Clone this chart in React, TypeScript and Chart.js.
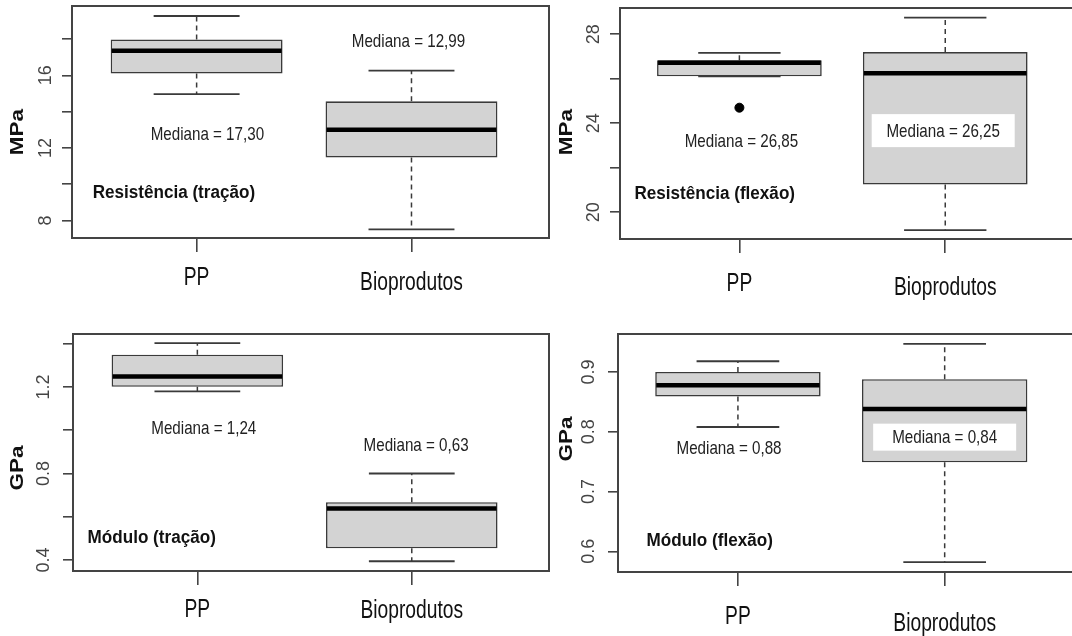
import React, { useEffect, useRef } from 'react';
import { Chart, registerables } from 'chart.js';

Chart.register(...registerables);

// ---------- DATA ----------
const categories = ['PP', 'Bioprodutos'];

// five-number summaries: [min, Q1, median, Q3, max]
const resTracaoPP = [14.97, 16.1, 17.35, 17.98, 19.27];
const resTracaoBio = [7.52, 11.48, 13.0, 14.57, 16.26];
const resFlexaoPP = [26.11, 26.11, 26.72, 26.83, 27.16];
const resFlexaoBio = [19.2, 21.25, 26.25, 27.2, 28.75];
const resFlexaoOutliersPP = [24.7];
const modTracaoPP = [1.18, 1.201, 1.248, 1.349, 1.403];
const modTracaoBio = [0.394, 0.454, 0.638, 0.667, 0.8];
const modFlexaoPP = [0.808, 0.859, 0.878, 0.9, 0.918];
const modFlexaoBio = [0.582, 0.749, 0.838, 0.888, 0.947];

const resTracaoTicks = [8, 10, 12, 14, 16, 18];
const resTracaoTickLabels = [8, 12, 16];
const resFlexaoTicks = [20, 22, 24, 26, 28];
const resFlexaoTickLabels = [20, 24, 28];
const modTracaoTicks = [0.4, 0.6, 0.8, 1.0, 1.2, 1.4];
const modTracaoTickLabels = [0.4, 0.8, 1.2];
const modFlexaoTicks = [0.6, 0.7, 0.8, 0.9];
const modFlexaoTickLabels = [0.6, 0.7, 0.8, 0.9];

const resTracaoMedianTexts = ['Mediana = 17,30', 'Mediana = 12,99'];
const resFlexaoMedianTexts = ['Mediana = 26,85', 'Mediana = 26,25'];
const modTracaoMedianTexts = ['Mediana = 1,24', 'Mediana = 0,63'];
const modFlexaoMedianTexts = ['Mediana = 0,88', 'Mediana = 0,84'];

// ---------- STYLE / LAYOUT ----------
const SANS = "'Liberation Sans', Arial, sans-serif";
const X_MIN = 0.42;
const X_MAX = 2.64;
const BOX_WIDTH = 0.8;

type Label = { text: string; x: number; y: number; bold?: boolean; boxed?: { w: number; h: number } };

type Panel = {
  canvas: { left: number; top: number; width: number; height: number };
  area: { left: number; top: number; right: number; bottom: number };
  yMin: number;
  yMax: number;
  ticks: number[];
  tickLabels: number[];
  unit: string;
  unitPos: { x: number; y: number };
  catBaselines: number[]; // page y of category label baselines
  summaries: number[][];
  outliers: number[][];
  labels: Label[];
};

const panels: Panel[] = [
  {
    canvas: { left: 0, top: 0, width: 560, height: 318 },
    area: { left: 72, top: 6, right: 549, bottom: 238 },
    yMin: 7.04, yMax: 19.82,
    ticks: resTracaoTicks, tickLabels: resTracaoTickLabels,
    unit: 'MPa', unitPos: { x: 18.5, y: 132 },
    catBaselines: [285, 290],
    summaries: [resTracaoPP, resTracaoBio],
    outliers: [[], []],
    labels: [
      { text: resTracaoMedianTexts[0], x: 1.05, y: 12.76 },
      { text: resTracaoMedianTexts[1], x: 1.986, y: 17.89 },
      { text: 'Resistência (tração)', x: 0.516, y: 9.51, bold: true },
    ],
  },
  {
    canvas: { left: 536, top: 0, width: 552, height: 318 },
    area: { left: 620, top: 8, right: 1077, bottom: 239 },
    yMin: 18.8, yMax: 29.18,
    ticks: resFlexaoTicks, tickLabels: resFlexaoTickLabels,
    unit: 'MPa', unitPos: { x: 31.5, y: 132 },
    catBaselines: [291, 295],
    summaries: [resFlexaoPP, resFlexaoBio],
    outliers: [resFlexaoOutliersPP, []],
    labels: [
      { text: resFlexaoMedianTexts[0], x: 1.01, y: 23.2 },
      { text: resFlexaoMedianTexts[1], x: 1.99, y: 23.67, boxed: { w: 143, h: 33 } },
      { text: 'Resistência (flexão)', x: 0.49, y: 20.82, bold: true },
    ],
  },
  {
    canvas: { left: 0, top: 318, width: 560, height: 318 },
    area: { left: 73, top: 334, right: 549, bottom: 571 },
    yMin: 0.349, yMax: 1.445,
    ticks: modTracaoTicks, tickLabels: modTracaoTickLabels,
    unit: 'GPa', unitPos: { x: 18, y: 150 },
    catBaselines: [617, 618],
    summaries: [modTracaoPP, modTracaoBio],
    outliers: [[], []],
    labels: [
      { text: modTracaoMedianTexts[0], x: 1.03, y: 1.011 },
      { text: modTracaoMedianTexts[1], x: 2.02, y: 0.934 },
      { text: 'Módulo (tração)', x: 0.488, y: 0.503, bold: true },
    ],
  },
  {
    canvas: { left: 536, top: 318, width: 552, height: 318 },
    area: { left: 618, top: 334, right: 1077, bottom: 572 },
    yMin: 0.5654, yMax: 0.9636,
    ticks: modFlexaoTicks, tickLabels: modFlexaoTickLabels,
    unit: 'GPa', unitPos: { x: 31.5, y: 121 },
    catBaselines: [624, 631],
    summaries: [modFlexaoPP, modFlexaoBio],
    outliers: [[], []],
    labels: [
      { text: modFlexaoMedianTexts[0], x: 0.957, y: 0.773 },
      { text: modFlexaoMedianTexts[1], x: 2.0, y: 0.791, boxed: { w: 143, h: 27 } },
      { text: 'Módulo (flexão)', x: 0.558, y: 0.618, bold: true },
    ],
  },
];

function drawText(
  ctx: CanvasRenderingContext2D,
  text: string,
  x: number,
  y: number,
  font: string,
  sx: number,
  align: CanvasTextAlign,
  baseline: CanvasTextBaseline,
  color: string,
) {
  ctx.save();
  ctx.translate(x, y);
  ctx.scale(sx, 1);
  ctx.font = font;
  ctx.textAlign = align;
  ctx.textBaseline = baseline;
  ctx.fillStyle = color;
  ctx.fillText(text, 0, 0);
  ctx.restore();
}

// ---------- PLUGIN ----------
const boxplotPlugin = {
  id: 'boxplotExtras',
  afterDatasetsDraw(chart: any, _args: any, opts: any) {
    const p: Panel = opts.panel;
    if (!p) return;
    const { ctx } = chart;
    const xs = chart.scales.x;
    const ys = chart.scales.y;
    const line = (x1: number, y1: number, x2: number, y2: number) => {
      ctx.beginPath();
      ctx.moveTo(x1, y1);
      ctx.lineTo(x2, y2);
      ctx.stroke();
    };
    p.summaries.forEach((s, i) => {
      const cx = xs.getPixelForValue(i + 1);
      const half = xs.getPixelForValue(i + 1 + BOX_WIDTH / 2) - cx;
      const capHalf = half / 2;
      const [lo, q1, med, q3, hi] = s;
      ctx.save();
      ctx.strokeStyle = '#3a3a3a';
      ctx.lineWidth = 1.5;
      ctx.setLineDash([5, 4]);
      line(cx, ys.getPixelForValue(q3), cx, ys.getPixelForValue(hi));
      line(cx, ys.getPixelForValue(q1), cx, ys.getPixelForValue(lo));
      ctx.setLineDash([]);
      ctx.lineWidth = 1.8;
      line(cx - capHalf, ys.getPixelForValue(hi), cx + capHalf, ys.getPixelForValue(hi));
      line(cx - capHalf, ys.getPixelForValue(lo), cx + capHalf, ys.getPixelForValue(lo));
      ctx.strokeStyle = '#000';
      ctx.lineWidth = 4.5;
      line(cx - half + 1, ys.getPixelForValue(med), cx + half - 1, ys.getPixelForValue(med));
      ctx.restore();
    });
  },
  afterDraw(chart: any, _args: any, opts: any) {
    const p: Panel = opts.panel;
    if (!p) return;
    const { ctx, chartArea } = chart;
    const xs = chart.scales.x;
    const ys = chart.scales.y;
    ctx.save();
    // frame
    ctx.strokeStyle = '#444';
    ctx.lineWidth = 2;
    ctx.strokeRect(chartArea.left, chartArea.top, chartArea.right - chartArea.left, chartArea.bottom - chartArea.top);
    ctx.restore();
    // category labels under the x ticks
    categories.forEach((cat, i) => {
      const px = xs.getPixelForValue(i + 1);
      drawText(ctx, cat, px, p.catBaselines[i] - p.canvas.top, `25px ${SANS}`, 0.77, 'center', 'alphabetic', '#111');
    });
    // annotations
    p.labels.forEach((l) => {
      const px = xs.getPixelForValue(l.x);
      const py = ys.getPixelForValue(l.y);
      if (l.bold) {
        drawText(ctx, l.text, px, py, `bold 18px ${SANS}`, 0.95, 'left', 'middle', '#111');
      } else {
        if (l.boxed) {
          ctx.save();
          ctx.fillStyle = '#fff';
          ctx.fillRect(px - l.boxed.w / 2, py - l.boxed.h / 2, l.boxed.w, l.boxed.h);
          ctx.restore();
        }
        drawText(ctx, l.text, px, py + 1, `18.5px ${SANS}`, 0.82, 'center', 'middle', '#222');
      }
    });
    // axis unit title
    ctx.save();
    ctx.translate(p.unitPos.x, p.unitPos.y);
    ctx.rotate(-Math.PI / 2);
    ctx.scale(1.25, 1);
    ctx.font = `bold 18px ${SANS}`;
    ctx.fillStyle = '#111';
    ctx.textAlign = 'center';
    ctx.textBaseline = 'middle';
    ctx.fillText(p.unit, 0, 0);
    ctx.restore();
  },
};

function BoxPanel({ panel }: { panel: Panel }) {
  const ref = useRef<HTMLCanvasElement | null>(null);
  useEffect(() => {
    if (!ref.current) return;
    const c = panel.canvas;
    const a = panel.area;
    const chart = new Chart(ref.current, {
      type: 'bar',
      data: {
        datasets: [
          {
            type: 'bar',
            data: panel.summaries.map((s, i) => ({ x: i + 1, y: [s[1], s[3]] })) as any,
            backgroundColor: '#d3d3d3',
            borderColor: '#3a3a3a',
            borderWidth: 1.6,
            borderSkipped: false,
            categoryPercentage: 1,
            barPercentage: BOX_WIDTH,
          } as any,
          {
            type: 'scatter',
            data: panel.outliers.flatMap((arr, i) => arr.map((v) => ({ x: i + 1, y: v }))),
            backgroundColor: '#000',
            borderColor: '#000',
            pointRadius: 4.5,
          } as any,
        ],
      },
      options: {
        animation: false,
        responsive: true,
        maintainAspectRatio: false,
        events: [],
        layout: {
          padding: {
            left: 0,
            top: a.top - c.top,
            right: c.left + c.width - a.right,
            bottom: 0,
          },
        },
        plugins: {
          legend: { display: false },
          tooltip: { enabled: false },
          boxplotExtras: { panel },
        } as any,
        scales: {
          x: {
            type: 'linear',
            min: X_MIN,
            max: X_MAX,
            offset: false,
            border: { display: false },
            grid: {
              display: true,
              offset: false,
              drawOnChartArea: false,
              drawTicks: true,
              tickLength: 14,
              color: '#444',
              lineWidth: 1.6,
            },
            ticks: {
              display: false,
              autoSkip: false,
              maxRotation: 0,
              minRotation: 0,
            },
            afterBuildTicks: (s: any) => {
              s.ticks = categories.map((_, i) => ({ value: i + 1 }));
            },
            afterFit: (s: any) => {
              s.height = c.top + c.height - a.bottom;
              s.paddingLeft = 0;
              s.paddingRight = 0;
              s.paddingTop = 0;
              s.paddingBottom = 0;
            },
          },
          y: {
            type: 'linear',
            min: panel.yMin,
            max: panel.yMax,
            border: { display: false },
            grid: {
              display: true,
              offset: false,
              drawOnChartArea: false,
              drawTicks: true,
              tickLength: 10,
              color: '#444',
              lineWidth: 1.6,
            },
            ticks: {
              autoSkip: false,
              minRotation: 90,
              maxRotation: 90,
              crossAlign: 'center',
              padding: 6,
              color: '#444',
              font: { family: SANS, size: 18 },
              callback: (v: any) => (panel.tickLabels.includes(Number(v)) ? String(v) : ''),
            },
            afterBuildTicks: (s: any) => {
              s.ticks = panel.ticks.map((v) => ({ value: v }));
            },
            afterFit: (s: any) => {
              s.width = a.left - c.left;
              s.paddingLeft = 0;
              s.paddingRight = 0;
              s.paddingTop = 0;
              s.paddingBottom = 0;
            },
          },
        },
      },
      plugins: [boxplotPlugin],
    } as any);
    return () => chart.destroy();
  }, [panel]);
  const c = panel.canvas;
  return (
    <div style={{ position: 'absolute', left: c.left, top: c.top, width: c.width, height: c.height }}>
      <canvas ref={ref} />
    </div>
  );
}

export default function App() {
  return (
    <div
      style={{
        position: 'absolute',
        left: 0,
        top: 0,
        width: 1072,
        height: 636,
        overflow: 'hidden',
        background: '#fff',
      }}
    >
      {panels.map((p, i) => (
        <BoxPanel key={i} panel={p} />
      ))}
    </div>
  );
}
